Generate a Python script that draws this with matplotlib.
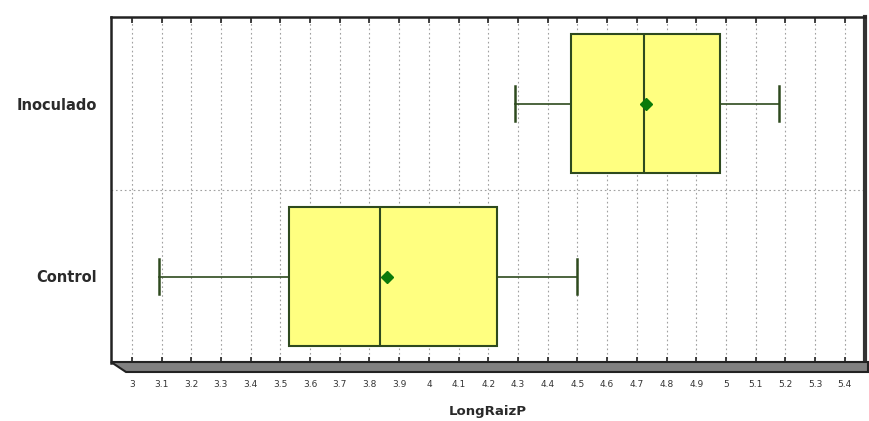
#!/usr/bin/env python3
"""Horizontal box plot of LongRaizP by treatment, 3D-floor style axes."""

import numpy as np
import matplotlib.pyplot as plt
from matplotlib.patches import Polygon

# Summary statistics per group (bottom to top)
groups = ['Control', 'Inoculado']
whisker_low = [3.09, 4.29]
q1 = [3.53, 4.48]
median = [3.835, 4.725]
q3 = [4.23, 4.98]
whisker_high = [4.50, 5.18]
mean = [3.86, 4.73]

tick_values = np.round(np.arange(3.0, 5.41, 0.1), 1)
tick_labels = [f'{v:g}' for v in tick_values]

BOX_FILL = '#ffff80'
BOX_EDGE = '#2e4a1e'
MEAN_COLOR = '#0a7a0a'


def main():
    fig = plt.figure(figsize=(8.7, 4.21), dpi=100)
    W, H = 870, 421
    left, right, top, bottom = 111, 865, 17, 363
    ax = fig.add_axes([left / W, 1 - bottom / H, (right - left) / W, (bottom - top) / H])

    stats = []
    for i, g in enumerate(groups):
        stats.append(dict(label=g, whislo=whisker_low[i], q1=q1[i], med=median[i],
                          q3=q3[i], whishi=whisker_high[i], mean=mean[i], fliers=[]))

    ax.bxp(stats, positions=range(len(groups)), vert=False, widths=0.8,
           patch_artist=True, showmeans=True, showcaps=True,
           boxprops=dict(facecolor=BOX_FILL, edgecolor=BOX_EDGE, linewidth=1.5),
           medianprops=dict(color=BOX_EDGE, linewidth=1.5),
           whiskerprops=dict(color=BOX_EDGE, linewidth=1.2),
           capprops=dict(color=BOX_EDGE, linewidth=1.8),
           meanprops=dict(marker='D', markerfacecolor=MEAN_COLOR,
                          markeredgecolor=MEAN_COLOR, markersize=6.5),
           capwidths=0.2, zorder=3)

    ax.set_xlim(2.93, 5.468)
    ax.set_ylim(-0.5, 1.5)

    # dotted grid
    for v in tick_values:
        ax.axvline(v, color='#a0a0a0', linestyle=(0, (1.5, 2.5)), linewidth=0.8, zorder=0)
    ax.axhline(0.5, color='#a0a0a0', linestyle=(0, (1.5, 2.5)), linewidth=0.8, zorder=0)

    ax.set_xticks(tick_values)
    ax.set_xticklabels(tick_labels, fontsize=6.5, color='#333333')
    ax.tick_params(axis='x', direction='in', length=4, width=1.2, color='#222222',
                   top=True, pad=12)
    ax.set_yticks(range(len(groups)))
    ax.set_yticklabels(groups, fontsize=10.5, fontweight='bold', color='#2a2a2a')
    ax.tick_params(axis='y', length=0, pad=10)

    ax.set_xlabel('LongRaizP', fontsize=9.5, fontweight='bold', color='#2a2a2a', labelpad=12)

    for s in ['left', 'top']:
        ax.spines[s].set_color('#222222')
        ax.spines[s].set_linewidth(1.8)
    ax.spines['right'].set_color('#333333')
    ax.spines['right'].set_linewidth(3)
    ax.spines['bottom'].set_visible(False)

    # raised floor under the plot area
    fl = [(111, 362), (868, 362), (868, 372), (126, 372)]
    floor = Polygon([(x / W, 1 - y / H) for x, y in fl], closed=True,
                    transform=fig.transFigure, facecolor='#808080',
                    edgecolor='#222222', linewidth=1.5)
    fig.add_artist(floor)

    fig.savefig('out.png', dpi=100, facecolor='white')


if __name__ == '__main__':
    main()
